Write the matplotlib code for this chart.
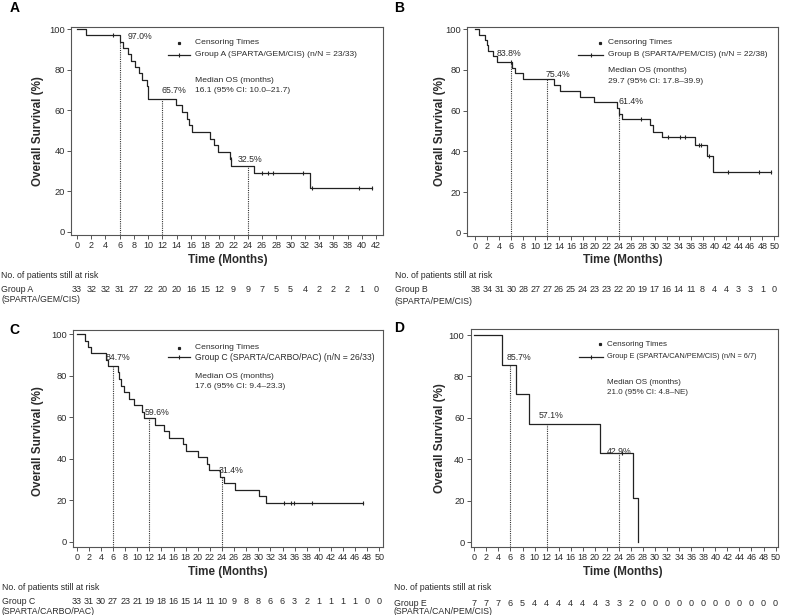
import numpy as np
import matplotlib
matplotlib.use('Agg')
import matplotlib.pyplot as plt
from matplotlib.transforms import blended_transform_factory

plt.rcParams['font.family'] = ['Liberation Sans', 'DejaVu Sans']

W, H = 787, 615

# ---------------- data ----------------
# Group A
event_t_A = [0, 1.2, 6.0, 6.5, 7.1, 7.6, 8.2, 8.7, 9.2, 9.8, 10.0, 13.9, 14.7, 15.4, 15.8,
             16.1, 18.7, 19.2, 19.8, 21.5, 21.7, 24.8, 32.7]
surv_A = [100, 97.0, 93.9, 90.8, 87.6, 84.5, 81.3, 78.2, 75.1, 71.9, 65.7, 62.4, 59.1, 55.8,
          52.6, 49.3, 46.0, 42.7, 39.4, 36.1, 32.5, 28.9, 21.7]
censor_A = [5.1, 21.6, 26.0, 26.8, 27.5, 31.8, 33.0, 39.6, 41.5]
landmark_A = [97.0, 65.7, 32.5]
risk_A = [33, 32, 32, 31, 27, 22, 20, 20, 16, 15, 12, 9, 9, 7, 5, 5, 4, 2, 2, 2, 1, 0]

# Group B
event_t_B = [0, 0.7, 1.6, 1.9, 2.2, 3.0, 3.7, 6.1, 6.6, 7.9, 13.1, 14.1, 17.5, 19.8, 23.7,
             24.0, 24.5, 29.2, 29.7, 31.2, 36.8, 38.7, 39.7]
surv_B = [100, 97.4, 94.7, 92.1, 89.5, 86.8, 83.8, 81.2, 78.3, 75.4, 72.6, 69.8, 66.9, 64.1,
          61.4, 58.6, 55.8, 52.9, 49.7, 47.2, 42.9, 37.8, 30.0]
censor_B = [6.0, 24.0, 27.7, 32.3, 34.3, 35.1, 37.4, 37.8, 39.0, 42.2, 47.4, 49.4]
landmark_B = [83.8, 75.4, 61.4]
risk_B = [38, 34, 31, 30, 28, 27, 27, 26, 25, 24, 23, 23, 22, 20, 19, 17, 16, 14, 11, 8,
          4, 4, 3, 3, 1, 0]

# Group C
event_t_C = [0, 1.4, 1.9, 2.4, 4.8, 5.1, 6.8, 7.0, 7.3, 7.8, 8.6, 9.4, 10.8, 11.2, 12.9,
             14.4, 15.3, 17.5, 18.1, 20.0, 21.6, 21.8, 23.6, 24.3, 26.1, 30.1, 31.2]
surv_C = [100, 97.0, 93.9, 90.9, 87.8, 84.7, 81.6, 78.4, 75.3, 72.2, 69.0, 65.9, 62.7, 59.6,
          56.5, 53.3, 50.2, 47.1, 43.9, 40.8, 37.6, 34.5, 31.4, 28.2, 25.1, 22.0, 18.8]
censor_C = [34.3, 35.4, 35.9, 38.9, 47.3]
landmark_C = [84.7, 59.6, 31.4]
risk_C = [33, 31, 30, 27, 23, 21, 19, 18, 16, 15, 14, 11, 10, 9, 8, 8, 6, 6, 3, 2, 1, 1, 1,
          1, 0, 0]

# Group E
event_t_E = [0, 4.6, 7.0, 9.1, 20.9, 26.3, 27.1]
surv_E = [100, 85.7, 71.4, 57.1, 42.9, 21.4, 0.0]
censor_E = [24.5]
landmark_E = [85.7, 57.1, 42.9]
risk_E = [7, 7, 7, 6, 5, 4, 4, 4, 4, 4, 4, 3, 3, 2, 0, 0, 0, 0, 0, 0, 0, 0, 0, 0, 0, 0]

landmark_months = [6, 12, 24]

labels = ['A', 'B', 'C', 'D']
legend_names = ['Group A (SPARTA/GEM/CIS) (n/N = 23/33)',
                'Group B (SPARTA/PEM/CIS) (n/N = 22/38)',
                'Group C (SPARTA/CARBO/PAC) (n/N = 26/33)',
                'Group E (SPARTA/CAN/PEM/CIS) (n/N = 6/7)']
median_texts = ['16.1 (95% CI: 10.0\u201321.7)',
                '29.7 (95% CI: 17.8\u201339.9)',
                '17.6 (95% CI: 9.4\u201323.3)',
                '21.0 (95% CI: 4.8\u2013NE)']
row_names = [('Group A', '(SPARTA/GEM/CIS)'), ('Group B', '(SPARTA/PEM/CIS)'),
             ('Group C', '(SPARTA/CARBO/PAC)'), ('Group E', '(SPARTA/CAN/PEM/CIS)')]
xmax_ticks = [42, 50, 50, 50]

# ---------------- layout (pixels) ----------------
panels = [
    dict(box=(71, 383, 27, 234.5), xlim=(-0.84, 42.98), ylim=(-1.38, 101.14),
         letter=(15, 8), ylab=(38, 131), xlab=(228, 260),
         leg_x=(168, 190, 179, 195), leg_y=(42.7, 55, 80, 90), leg_fs=(6.1, 6.1),
         land=[(7.1, 96.3), (11.9, 69.7), (22.6, 35.8)],
         risk_y=(275, 290, 300), risk_x=1),
    dict(box=(467, 778, 27, 236), xlim=(-1.39, 50.62), ylim=(-1.6, 101.13),
         letter=(399, 8), ylab=(440, 131), xlab=(623, 260),
         leg_x=(578, 603, 600, 608), leg_y=(42.7, 55, 70.7, 81.7), leg_fs=(6.1, 6.0),
         land=[(3.6, 87.9), (11.7, 78.0), (23.9, 64.4)],
         risk_y=(275, 290, 301), risk_x=395),
    dict(box=(73.3, 383, 330, 546.7), xlim=(-0.56, 50.6), ylim=(-2.41, 102.07),
         letter=(14, 330), ylab=(38, 441), xlab=(228, 572),
         leg_x=(168, 190, 179, 195), leg_y=(347.7, 357.3, 376, 386.7), leg_fs=(6.1, 6.25),
         land=[(4.8, 88.6), (11.3, 62.4), (23.4, 34.2)],
         risk_y=(588, 601.7, 611.5), risk_x=2),
    dict(box=(470.7, 778, 329, 546.7), xlim=(-0.6, 50.4), ylim=(-2.12, 102.9),
         letter=(399, 328), ylab=(440, 438), xlab=(623, 572),
         leg_x=(579, 603, 600, 607), leg_y=(344.3, 356.7, 382.3, 392.3), leg_fs=(5.8, 5.35),
         land=[(5.4, 89.0), (10.6, 61.4), (22.0, 44.0)],
         risk_y=(588, 603, 612), risk_x=394),
]

series = [(event_t_A, surv_A, censor_A, landmark_A, risk_A),
          (event_t_B, surv_B, censor_B, landmark_B, risk_B),
          (event_t_C, surv_C, censor_C, landmark_C, risk_C),
          (event_t_E, surv_E, censor_E, landmark_E, risk_E)]

TXT = '#2b2b2b'
LINE = '#222222'
FRAME = '#555555'
RISK_FS = 6.5

fig = plt.figure(figsize=(W / 100, H / 100), dpi=100)
fig.patch.set_facecolor('white')


def fx(x):
    return x / W


def fy(y):
    return 1 - y / H


for i, (p, (et, sv, cens, lands, risk)) in enumerate(zip(panels, series)):
    l, r, t, b = p['box']
    ax = fig.add_axes([fx(l), fy(b), (r - l) / W, (b - t) / H])
    ax.set_xlim(*p['xlim'])
    ax.set_ylim(*p['ylim'])
    for s in ax.spines.values():
        s.set_color(FRAME)
        s.set_linewidth(0.8)
    ax.set_xticks(np.arange(0, xmax_ticks[i] + 1, 2))
    ax.set_yticks([0, 20, 40, 60, 80, 100])
    ax.tick_params(axis='x', direction='out', length=3, width=0.7, color=FRAME,
                   labelsize=6.5, labelcolor=TXT, pad=1.5)
    ax.tick_params(axis='y', direction='out', length=3, width=0.7, color=FRAME,
                   labelsize=6.7, labelcolor=TXT, pad=1.5)

    et_arr = np.array(et, dtype=float)
    sv_arr = np.array(sv, dtype=float)
    end_t = max(max(cens) if cens else 0, et_arr[-1])
    xs = np.append(et_arr, end_t)
    ys = np.append(sv_arr, sv_arr[-1])
    ax.step(xs, ys, where='post', color=LINE, lw=0.9, zorder=3)

    def surv_at(tt):
        idx = np.searchsorted(et_arr, tt, side='right') - 1
        return sv_arr[idx]

    cy = [surv_at(c) for c in cens]
    ax.plot(cens, cy, ls='none', marker='|', ms=3.5, mew=0.8, color=LINE, zorder=4)

    # landmark dotted lines
    y0 = p['ylim'][0]
    for m, lv, (lx, ly) in zip(landmark_months, lands, p['land']):
        ax.plot([m, m], [y0, surv_at(m)], ls=(0, (1, 1)), lw=0.8, color='#333333', zorder=2)
        ax.text(lx, ly, f'{lv:.1f}%', fontsize=6.3, color=TXT, ha='left', va='center')

    # axis labels
    fig.text(fx(p['ylab'][0]), fy(p['ylab'][1]), 'Overall Survival (%)', rotation=90,
             fontsize=8.4, fontweight='bold', color=TXT, ha='center', va='center')
    fig.text(fx(p['xlab'][0]), fy(p['xlab'][1]), 'Time (Months)',
             fontsize=8.4, fontweight='bold', color=TXT, ha='center', va='center')
    fig.text(fx(p['letter'][0]), fy(p['letter'][1]), labels[i], fontsize=10,
             fontweight='bold', color='black', ha='center', va='center')

    # legend
    x1, x2, xd, xt = p['leg_x']
    yd, yl, ym1, ym2 = p['leg_y']
    fs_a, fs_b = p['leg_fs']
    fig.lines.append(plt.Line2D([fx(xd)], [fy(yd)], transform=fig.transFigure, ls='none',
                                marker='s', ms=1.3, color=LINE))
    fig.lines.append(plt.Line2D([fx(x1), fx(x2)], [fy(yl), fy(yl)], transform=fig.transFigure,
                                color=LINE, lw=0.9))
    fig.lines.append(plt.Line2D([fx((x1 + x2) / 2)], [fy(yl)], transform=fig.transFigure,
                                ls='none', marker='|', ms=2.5, mew=0.8, color=LINE))
    fig.text(fx(xt), fy(yd), 'Censoring Times', fontsize=fs_a, color=TXT, ha='left', va='center')
    fig.text(fx(xt), fy(yl), legend_names[i], fontsize=fs_b, color=TXT, ha='left', va='center')
    fig.text(fx(xt), fy(ym1), 'Median OS (months)', fontsize=fs_a, color=TXT, ha='left',
             va='center')
    fig.text(fx(xt), fy(ym2), median_texts[i], fontsize=fs_a, color=TXT, ha='left', va='center')

    # at-risk table
    ry0, ry1, ry2 = p['risk_y']
    fig.text(fx(p['risk_x']), fy(ry0), 'No. of patients still at risk', fontsize=6.3,
             color=TXT, ha='left', va='center')
    fig.text(fx(p['risk_x']), fy(ry1), row_names[i][0], fontsize=6.3, color=TXT, ha='left',
             va='center')
    fig.text(fx(p['risk_x']), fy(ry2), row_names[i][1], fontsize=6.3, color=TXT, ha='left',
             va='center')
    tr = blended_transform_factory(ax.transData, fig.transFigure)
    for k, n in enumerate(risk):
        ax.text(2 * k, fy(ry1), str(n), transform=tr, fontsize=RISK_FS, color=TXT,
                ha='center', va='center', clip_on=False)

fig.savefig('out.png', dpi=100, facecolor='white')
